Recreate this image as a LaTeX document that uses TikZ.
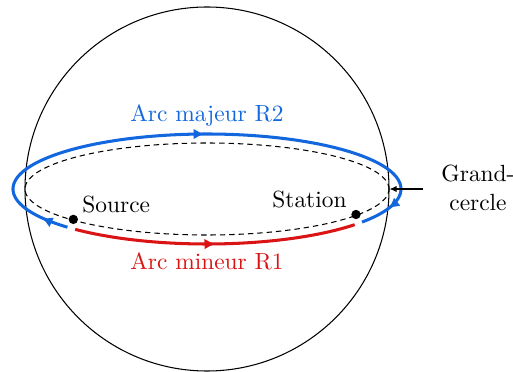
\documentclass[tikz,border=0pt]{standalone}
\usetikzlibrary{arrows.meta,decorations.markings}
\definecolor{routeblue}{RGB}{18,102,222}
\definecolor{routered}{RGB}{218,20,20}
\begin{document}
\begin{tikzpicture}[x=0.4274pt,y=0.4274pt,
  route/.style={line width=1.3pt},
  midarrow/.style={decoration={markings,mark=at position #1 with {\arrow{Latex[length=4.6pt,width=4.6pt]}}},postaction={decorate}},
  dot/.style={circle,fill=black,inner sep=0pt,minimum size=4pt},
  lbl/.style={inner sep=0pt,font=\normalsize}]
\useasboundingbox (0,0) rectangle (513,372);
\coordinate (c) at (207,183);
% sphere outline
\draw[line width=0.45pt] (c) circle[radius=77.79pt];
% great circle (dashed ellipse)
\draw[line width=0.45pt,dash pattern=on 2.3pt off 1.7pt]
  plot[variable=\t,domain=0:360,samples=240] ({207+182*cos(\t)},{183+46*sin(\t)}) -- cycle;
% major arc R2 (blue)
\draw[route,routeblue,
  decoration={markings,
    mark=at position 0.05 with {\arrow{Latex[length=4.6pt,width=4.6pt]}},
    mark=at position 0.51 with {\arrow{Latex[length=4.6pt,width=4.6pt]}},
    mark=at position 0.945 with {\arrow{Latex[length=4.6pt,width=4.6pt]}}},
  postaction={decorate}]
  plot[variable=\s,domain=0:1,samples=260] ({207+194*cos(224-261*\s)},{183+55*sin(224-261*\s)});
% minor arc R1 (red)
\draw[route,routered,midarrow=0.5]
  plot[variable=\s,domain=0:1,samples=120] ({207+194*cos(227.2+92.5*\s)},{183+55*sin(227.2+92.5*\s)});
% points
\node[dot] (src) at (73.3,152.6) {};
\node[dot] (sta) at (356,157.5) {};
% labels
\node[lbl,anchor=base west] (srclbl) at (82,159) {Source};
\node[lbl,anchor=base east] (stalbl) at (347,164) {Station};
\node[lbl,anchor=base,text=routeblue] (r2lbl) at (207,250.3) {Arc majeur R2};
\node[lbl,anchor=base,text=routered] (r1lbl) at (207,102) {Arc mineur R1};
\node[lbl,align=center] (gclbl) at (478,184.1) {Grand-\\cercle};
% pointer to great circle
\coordinate (gcfrom) at (423,183);
\coordinate (gcto) at (389.5,183);
\draw[line width=0.45pt,-{Latex[length=3pt,width=2.6pt]}] (gcfrom) -- (gcto);
\end{tikzpicture}
\end{document}
